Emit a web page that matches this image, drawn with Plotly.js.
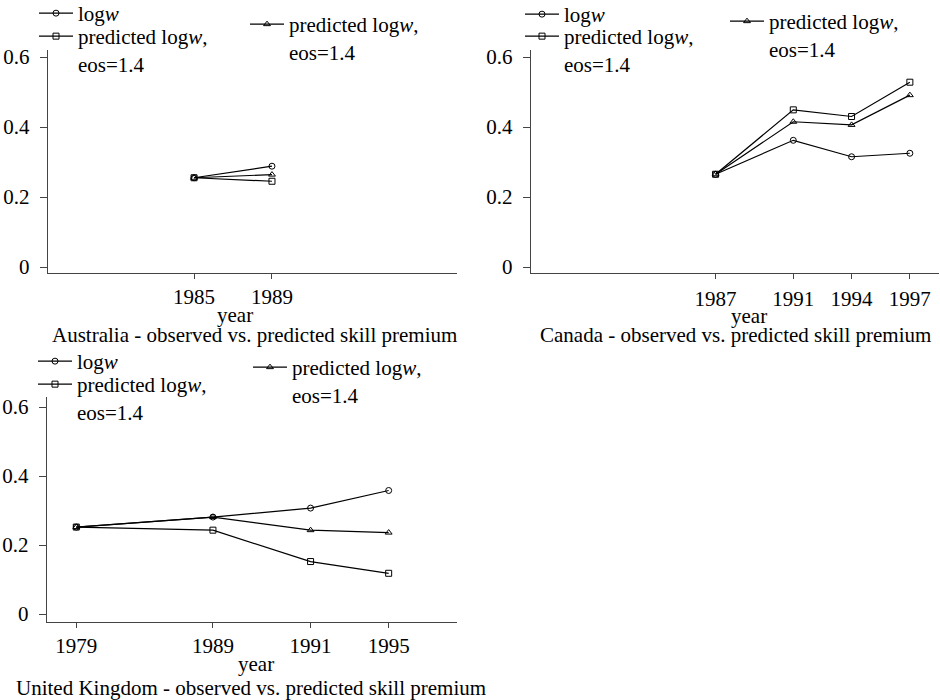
<!DOCTYPE html>
<html>
<head>
<meta charset="utf-8">
<script src="https://cdn.plot.ly/plotly-3.0.1.min.js"></script>
<style>html,body{margin:0;padding:0;background:#fff;}#chart{width:940px;height:700px;}</style>
</head>
<body>
<div id="chart"></div>
<script>
// ---- data ----
const seriesNames = ['log<i>w</i>', 'predicted log<i>w</i>,<br>eos=1.4', 'predicted log<i>w</i>,<br>eos=1.4'];
const yTickVals = [0, 0.2, 0.4, 0.6];
const yTickText = ['0', '0.2', '0.4', '0.6'];

const auYears = [1985, 1989];
const auLogw = [0.255, 0.288];
const auPredSq = [0.255, 0.245];
const auPredTri = [0.255, 0.264];

const caYears = [1987, 1991, 1994, 1997];
const caLogw = [0.265, 0.362, 0.315, 0.325];
const caPredSq = [0.265, 0.449, 0.430, 0.528];
const caPredTri = [0.265, 0.415, 0.406, 0.491];

const ukYearLabels = ['1979', '1989', '1991', '1995'];
const ukYearPlotted = [1979, 1986, 1991, 1995];
const ukLogw = [0.252, 0.281, 0.307, 0.358];
const ukPredSq = [0.252, 0.243, 0.152, 0.118];
const ukPredTri = [0.252, 0.281, 0.243, 0.236];

const panelTitles = ['Australia - observed vs. predicted skill premium',
  'Canada - observed vs. predicted skill premium',
  'United Kingdom - observed vs. predicted skill premium'];

// ---- styling ----
const W = 940, H = 700;
const font = (s) => ({family: 'Liberation Serif', size: s || 21, color: '#000'});
const symbols = ['circle-open', 'square-open', 'triangle-up-open'];
const px = v => v / W;
const py = v => 1 - v / H;

function mk(x, y, k, xa, ya, leg) {
  return {
    x: x, y: y, type: 'scatter', mode: 'lines+markers',
    name: seriesNames[k], xaxis: xa, yaxis: ya, legend: leg,
    line: {color: '#000', width: 1.2},
    marker: {symbol: symbols[k], size: 6, color: '#000', line: {width: 1, color: '#000'}},
    hoverinfo: 'skip'
  };
}

const traces = [
  mk(auYears, auLogw, 0, 'x', 'y', 'legend'),
  mk(auYears, auPredSq, 1, 'x', 'y', 'legend2'),
  mk(auYears, auPredTri, 2, 'x', 'y', 'legend3'),
  mk(caYears, caLogw, 0, 'x2', 'y2', 'legend4'),
  mk(caYears, caPredSq, 1, 'x2', 'y2', 'legend5'),
  mk(caYears, caPredTri, 2, 'x2', 'y2', 'legend6'),
  mk(ukYearPlotted, ukLogw, 0, 'x3', 'y3', 'legend7'),
  mk(ukYearPlotted, ukPredSq, 1, 'x3', 'y3', 'legend8'),
  mk(ukYearPlotted, ukPredTri, 2, 'x3', 'y3', 'legend9')
];

function xax(domain, vals, text, anchor, standoff) {
  return {
    domain: domain, anchor: anchor, range: [1977.5, 1998.5],
    tickmode: 'array', tickvals: vals, ticktext: text,
    showline: true, linecolor: '#444', linewidth: 1.2, mirror: false,
    ticks: 'outside', ticklen: 5, tickcolor: '#444', tickwidth: 1,
    showgrid: false, zeroline: false, tickfont: font(), ticklabelstandoff: standoff
  };
}
function yax(domain, range, anchor) {
  return {
    domain: domain, anchor: anchor, range: range,
    tickmode: 'array', tickvals: yTickVals, ticktext: yTickText,
    showline: true, linecolor: '#444', linewidth: 1.2,
    ticks: 'outside', ticklen: 7, tickcolor: '#444', tickwidth: 1,
    showgrid: false, zeroline: false, tickfont: font(), ticklabelstandoff: 6
  };
}

function leg(xpx, ypx) {
  return {x: px(xpx), y: py(ypx), xanchor: 'left', yanchor: 'top',
    bgcolor: 'rgba(0,0,0,0)', borderwidth: 0, font: font(21), valign: 'top',
    itemclick: false, itemdoubleclick: false, tracegroupgap: 0, itemwidth: 34};
}

function ann(text, xpx, ypx) {
  return {text: text, x: px(xpx), y: py(ypx), xref: 'paper', yref: 'paper',
    xanchor: 'center', yanchor: 'middle', showarrow: false, font: font()};
}

const layout = {
  width: W, height: H, margin: {l: 0, r: 0, t: 0, b: 0, autoexpand: false},
  paper_bgcolor: '#fff', plot_bgcolor: '#fff', font: font(), showlegend: true,
  xaxis: xax([px(48), px(457)], auYears, auYears.map(String), 'y', 0),
  yaxis: yax([1 - 273 / H, 1 - 50 / H], [-6 / 350, 217 / 350], 'x'),
  xaxis2: xax([px(531), px(939)], caYears, caYears.map(String), 'y2', 2),
  yaxis2: yax([1 - 273 / H, 1 - 50 / H], [-6 / 350, 217 / 350], 'x2'),
  xaxis3: xax([px(47), px(457)], ukYearPlotted, ukYearLabels, 'y3', 0),
  yaxis3: yax([1 - 622 / H, 1 - 397 / H], [-8 / 345, 217 / 345], 'x3'),
  legend: leg(34, -7),
  legend2: leg(34, 16),
  legend3: leg(245, 4),
  legend4: leg(520, -6),
  legend5: leg(520, 16),
  legend6: leg(725, 1),
  legend7: leg(33, 341),
  legend8: leg(33, 364),
  legend9: leg(248, 347),
  annotations: [
    ann('year', 235, 315), ann(panelTitles[0], 254, 335),
    ann('year', 749, 316), ann(panelTitles[1], 735, 335),
    ann('year', 256, 664), ann(panelTitles[2], 251, 688)
  ]
};

Plotly.newPlot('chart', traces, layout, {staticPlot: true, displayModeBar: false});
</script>
</body>
</html>
